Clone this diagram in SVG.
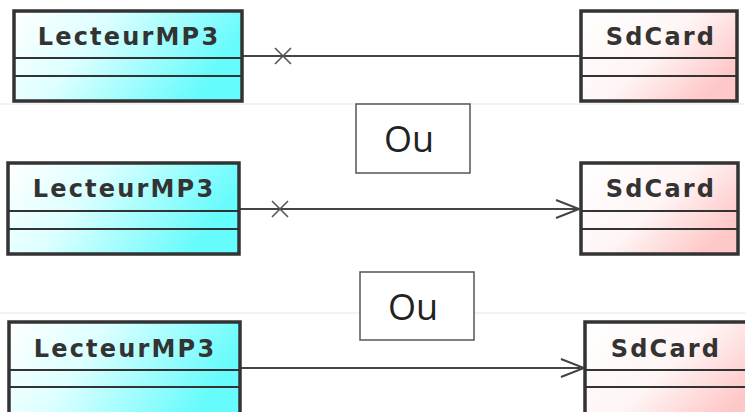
<svg xmlns="http://www.w3.org/2000/svg" width="745" height="412" viewBox="0 0 745 412">
  <defs>
    <linearGradient id="gCyan" x1="0" y1="0" x2="1" y2="0.3">
      <stop offset="0" stop-color="#ffffff"/>
      <stop offset="0.4" stop-color="#dcffff"/>
      <stop offset="1" stop-color="#66fbfc"/>
    </linearGradient>
    <linearGradient id="gPink" x1="0" y1="0" x2="1" y2="0.6">
      <stop offset="0" stop-color="#ffffff"/>
      <stop offset="0.55" stop-color="#fff5f5"/>
      <stop offset="1" stop-color="#ffc8c8"/>
    </linearGradient>
    <marker id="openArrow" markerWidth="30" markerHeight="24" refX="24" refY="10" orient="auto" markerUnits="userSpaceOnUse">
      <path d="M1,1 L24,10 L1,19" fill="none" stroke="#444" stroke-width="2"/>
    </marker>
  </defs>
  <style>
    .box { stroke: #333; stroke-width: 3.5; }
    .div { stroke: #333; stroke-width: 2; }
    .title { font-family: "DejaVu Sans", sans-serif; font-weight: bold; font-size: 24px; fill: #333; text-anchor: middle; letter-spacing: 2.2px; }
    .conn { stroke: #444; stroke-width: 2; fill: none; }
    .cross { stroke: #555; stroke-width: 1.6; fill: none; }
    .sep { stroke: #f2f2f2; stroke-width: 2; }
    .note { fill: #fff; stroke: #555; stroke-width: 1.5; }
    .ou { font-family: "Open Sans", "Liberation Sans", sans-serif; font-size: 36px; fill: #222; text-anchor: middle; }
  </style>

  <rect width="745" height="412" fill="#fff"/>

  <!-- faint band separators -->
  <line class="sep" x1="0" y1="104" x2="745" y2="104"/>
  <line class="sep" x1="0" y1="313" x2="745" y2="313"/>

  <!-- connectors -->
  <g id="connectors">
    <line class="conn" x1="243" y1="56" x2="580" y2="56"/>
    <path class="cross" d="M275,48 L291,64 M291,48 L275,64"/>
    <line class="conn" x1="239" y1="209" x2="579" y2="209" marker-end="url(#openArrow)"/>
    <path class="cross" d="M272,201 L288,217 M288,201 L272,217"/>
    <line class="conn" x1="241" y1="368" x2="584" y2="368" marker-end="url(#openArrow)"/>
  </g>

  <!-- first variant -->
  <g id="lecteur1">
    <rect class="box" x="14" y="11" width="228" height="90" fill="url(#gCyan)"/>
    <line class="div" x1="14" y1="58" x2="242" y2="58"/>
    <line class="div" x1="14" y1="76" x2="242" y2="76"/>
    <text class="title" x="129" y="45">LecteurMP3</text>
  </g>
  <g id="sdcard1">
    <rect class="box" x="581" y="11" width="156" height="90" fill="url(#gPink)"/>
    <line class="div" x1="581" y1="58" x2="737" y2="58"/>
    <line class="div" x1="581" y1="76" x2="737" y2="76"/>
    <text class="title" x="661" y="45">SdCard</text>
  </g>

  <g id="ou1">
    <rect class="note" x="356" y="104" width="114" height="69"/>
    <text class="ou" x="409" y="152">Ou</text>
  </g>

  <!-- second variant -->
  <g id="lecteur2">
    <rect class="box" x="8" y="163" width="231" height="91" fill="url(#gCyan)"/>
    <line class="div" x1="8" y1="211" x2="239" y2="211"/>
    <line class="div" x1="8" y1="229" x2="239" y2="229"/>
    <text class="title" x="124" y="197">LecteurMP3</text>
  </g>
  <g id="sdcard2">
    <rect class="box" x="581" y="163" width="157" height="91" fill="url(#gPink)"/>
    <line class="div" x1="581" y1="211" x2="738" y2="211"/>
    <line class="div" x1="581" y1="229" x2="738" y2="229"/>
    <text class="title" x="661" y="197">SdCard</text>
  </g>

  <g id="ou2">
    <rect class="note" x="360" y="272" width="114" height="68"/>
    <text class="ou" x="413" y="320">Ou</text>
  </g>

  <!-- third variant -->
  <g id="lecteur3">
    <rect class="box" x="9" y="322" width="231" height="100" fill="url(#gCyan)"/>
    <line class="div" x1="9" y1="370" x2="240" y2="370"/>
    <line class="div" x1="9" y1="387" x2="240" y2="387"/>
    <text class="title" x="125" y="357">LecteurMP3</text>
  </g>
  <g id="sdcard3">
    <rect class="box" x="585" y="322" width="170" height="100" fill="url(#gPink)"/>
    <line class="div" x1="585" y1="370" x2="745" y2="370"/>
    <line class="div" x1="585" y1="387" x2="745" y2="387"/>
    <text class="title" x="666" y="357">SdCard</text>
  </g>
</svg>
